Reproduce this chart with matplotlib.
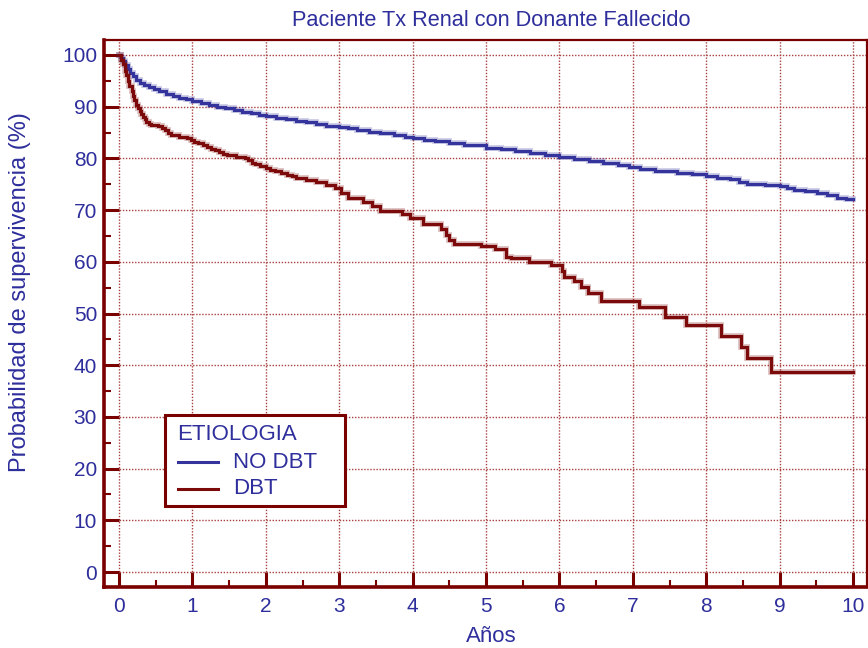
import matplotlib
matplotlib.use("Agg")
import matplotlib.pyplot as plt
import matplotlib.patheffects as pe
from matplotlib.lines import Line2D
from matplotlib.patches import Rectangle
from matplotlib.ticker import MultipleLocator

plt.rcParams['font.family'] = ['Liberation Sans', 'DejaVu Sans']

# Kaplan-Meier step points (years, survival %)
no_dbt_time = [0, 0.02, 0.05, 0.08, 0.12, 0.15, 0.19, 0.23, 0.28, 0.34, 0.41, 0.48,
               0.55, 0.64, 0.73, 0.82, 0.91, 1.00, 1.12, 1.23, 1.34, 1.45, 1.57, 1.68,
               1.80, 1.90, 2.00, 2.14, 2.27, 2.41, 2.55, 2.68, 2.82, 3.00, 3.12, 3.24,
               3.40, 3.56, 3.75, 3.90, 4.00, 4.15, 4.30, 4.50, 4.70, 5.00, 5.20, 5.40,
               5.60, 5.80, 6.00, 6.20, 6.40, 6.60, 6.80, 6.95, 7.10, 7.30, 7.60, 7.80,
               8.00, 8.15, 8.33, 8.45, 8.55, 8.80, 9.00, 9.10, 9.19, 9.35, 9.51, 9.65,
               9.78, 9.90, 10.00]
no_dbt_surv = [100, 99.4, 98.8, 98.0, 97.2, 96.5, 95.9, 95.2, 94.6, 94.2, 93.8, 93.4,
               93.0, 92.5, 92.0, 91.7, 91.4, 91.1, 90.7, 90.3, 90.0, 89.7, 89.4, 89.0,
               88.7, 88.4, 88.2, 87.9, 87.6, 87.3, 87.0, 86.7, 86.3, 86.0, 85.8, 85.5,
               85.2, 84.9, 84.5, 84.2, 84.0, 83.6, 83.3, 82.9, 82.5, 82.1, 81.8, 81.4,
               81.0, 80.7, 80.3, 79.9, 79.5, 79.1, 78.8, 78.4, 78.0, 77.6, 77.2, 76.9,
               76.6, 76.3, 76.0, 75.5, 75.1, 74.8, 74.6, 74.2, 73.9, 73.6, 73.3, 72.9,
               72.4, 72.2, 72.1]

dbt_time = [0, 0.03, 0.05, 0.08, 0.10, 0.12, 0.14, 0.17, 0.19, 0.21, 0.23, 0.26, 0.28,
            0.30, 0.32, 0.35, 0.37, 0.41, 0.44, 0.53, 0.58, 0.62, 0.67, 0.71, 0.82,
            0.93, 0.98, 1.02, 1.08, 1.14, 1.20, 1.25, 1.31, 1.36, 1.42, 1.47, 1.59,
            1.72, 1.76, 1.81, 1.85, 1.92, 2.00, 2.06, 2.13, 2.21, 2.29, 2.35, 2.41,
            2.55, 2.69, 2.82, 2.94, 3.03, 3.12, 3.33, 3.44, 3.55, 3.85, 3.96, 4.14,
            4.39, 4.46, 4.50, 4.57, 4.93, 5.12, 5.27, 5.34, 5.59, 5.89, 6.03, 6.06,
            6.20, 6.30, 6.39, 6.57, 7.08, 7.44, 7.72, 8.20, 8.47, 8.55, 8.88, 10.00]
dbt_surv = [100, 99.0, 98.2, 97.0, 96.2, 95.0, 94.0, 93.0, 92.0, 91.2, 90.4, 89.7, 89.1,
            88.6, 88.1, 87.6, 87.1, 86.7, 86.5, 86.3, 85.9, 85.5, 85.0, 84.5, 84.2,
            83.9, 83.5, 83.2, 82.9, 82.6, 82.2, 81.9, 81.6, 81.3, 80.9, 80.6, 80.3,
            80.0, 79.6, 79.2, 78.9, 78.5, 78.1, 77.8, 77.5, 77.1, 76.8, 76.5, 76.2,
            75.9, 75.4, 74.9, 74.2, 73.3, 72.4, 71.5, 70.8, 69.9, 69.3, 68.5, 67.4,
            66.4, 65.1, 64.3, 63.5, 63.1, 62.4, 61.0, 60.7, 60.0, 59.3, 58.2, 57.1,
            56.2, 55.1, 54.0, 52.5, 51.3, 49.4, 47.7, 45.6, 43.5, 41.4, 38.6, 38.6]

x_ticks = list(range(0, 11))
y_ticks = list(range(0, 101, 10))

title = "Paciente Tx Renal con Donante Fallecido"
x_label = "Años"
y_label = "Probabilidad de supervivencia (%)"
legend_title = "ETIOLOGIA"
series_labels = ["NO DBT", "DBT"]

BLUE = "#34349c"
RED = "#7c0a0a"
FRAME = "#7a0000"
GRID = "#a84040"
TEXT = "#2e2e9c"

W, H = 868, 648
fig = plt.figure(figsize=(W / 100, H / 100), dpi=100)
ax = fig.add_axes([104 / W, 1 - 587 / H, (867 - 104) / W, (587 - 40) / H])

ax.set_xlim(-0.205, 10.19)
ax.set_ylim(-2.9, 102.9)

series = [(no_dbt_time, no_dbt_surv, BLUE, series_labels[0]),
          (dbt_time, dbt_surv, RED, series_labels[1])]
for t, s, c, lab in series:
    ax.plot(t, s, drawstyle="steps-post", color=c, lw=2.3, label=lab,
            solid_joinstyle="miter", zorder=3,
            path_effects=[pe.Stroke(linewidth=4.2, foreground=c, alpha=0.25), pe.Normal()])

ax.set_xticks(x_ticks)
ax.set_yticks(y_ticks)
ax.xaxis.set_minor_locator(MultipleLocator(0.5))
ax.yaxis.set_minor_locator(MultipleLocator(5))
ax.tick_params(which="major", direction="in", length=10.8, width=2.2, color=FRAME,
               labelsize=15, labelcolor=TEXT, pad=5)
ax.tick_params(axis="x", which="major", pad=7)
ax.tick_params(which="minor", direction="in", length=5, width=1.5, color=FRAME)

ax.grid(which="major", color=GRID, linestyle=(0, (1, 1.2)), linewidth=1.0, zorder=1)
ax.set_axisbelow(True)

for side in ["left", "bottom"]:
    ax.spines[side].set_linewidth(2.6)
    ax.spines[side].set_color(FRAME)
for side in ["top", "right"]:
    ax.spines[side].set_linewidth(1.6)
    ax.spines[side].set_color(FRAME)

fig.text(491 / W, 1 - 20 / H, title, ha="center", va="center", fontsize=15.7, color=TEXT)
fig.text(491 / W, 1 - 636 / H, x_label, ha="center", va="center", fontsize=16, color=TEXT)
fig.text(20 / W, 1 - 292 / H, y_label, ha="center", va="center", rotation=90,
         fontsize=17, color=TEXT)

# Legend box, laid out in figure pixels
def fx(px):
    return px / W


def fy(py):
    return 1 - py / H


fig.patches.append(Rectangle((fx(165), fy(506)), fx(345) - fx(165), fy(415) - fy(506),
                             transform=fig.transFigure, facecolor="white",
                             edgecolor=FRAME, linewidth=2.2, zorder=5))
fig.text(fx(177), fy(435), legend_title, ha="left", va="center", fontsize=16,
         color=TEXT, zorder=6)
for (t, s, c, lab), py in zip(series, [462, 489]):
    fig.lines.append(Line2D([fx(178), fx(218)], [fy(py), fy(py)],
                            transform=fig.transFigure, color=c, lw=2.2, zorder=6))
    fig.text(fx(233), fy(py), lab, ha="left", va="center", fontsize=16,
             color=TEXT, zorder=6)

fig.savefig("out.png", dpi=100)
